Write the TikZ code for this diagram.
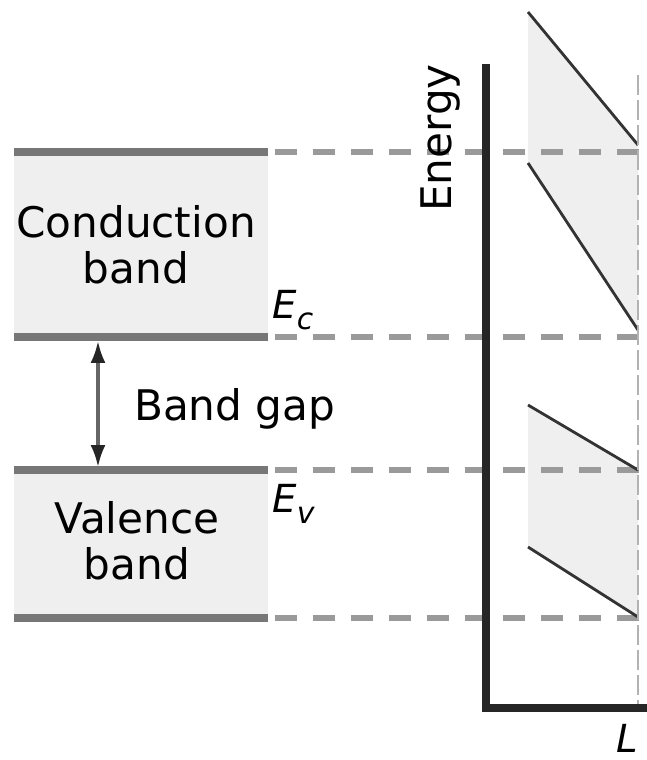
\documentclass[tikz,border=0pt]{standalone}
\usepackage{fontspec}
\setmainfont{DejaVu Sans}
\usetikzlibrary{arrows.meta}
\definecolor{bandgray}{HTML}{777777}
\definecolor{dashgray}{HTML}{9A9A9A}
\definecolor{fillgray}{HTML}{EFEFEF}
\tikzset{
  bandline/.style={
    draw = bandgray,
    line width = 4pt
  },
  dashline/.style={
    draw = dashgray,
    line width = 3.6pt,
    dash pattern = on 0.44cm off 0.32cm
  },
  bandfill/.style={
    fill = fillgray
  },
  slope/.style={
    draw = black!80,
    line width = 1.6pt
  },
  axisline/.style={
    draw = black!85,
    line width = 5pt
  },
  gaptip/.style={
    {Latex[length=0.44cm,width=0.3cm,color=black!85]}-{Latex[length=0.44cm,width=0.3cm,color=black!85]}
  },
  every picture/.style = {
    x = 0.02cm,
    y = -0.02cm,
    font = \fontsize{24}{26}\selectfont
  }
}
\begin{document}
\begin{tikzpicture}
            \useasboundingbox (0,0) rectangle (646,760);
            % fills
            \fill[bandfill] (14,152) rectangle (268,337);
            \fill[bandfill] (14,470) rectangle (268,618);
            \fill[bandfill] (528,12)--(638,145)--(638,330)--(528,163)--cycle;
            \fill[bandfill] (528,405)--(638,470)--(638,617)--(528,547)--cycle;
            % left: band edges
            \foreach \y in {152,337,470,618} {
              \draw[bandline] (14,\y)--(268,\y);
              \draw[dashline] (275,\y)--(640,\y);
            }
            \node (cond) [align=center] at (136,245) {Conduction\\band};
            \node (val) [align=center] at (137,541) {Valence\\band};
            \coordinate (ctop) at (98,341);
            \coordinate (vbot) at (98,467);
            \draw[gaptip, line width=1.8pt, black!60] (ctop)--(vbot);
            \node (gap) [anchor=base west] at (128,420) {Band gap};
            \node (ec) [anchor=base west, font=\fontsize{22}{26}\selectfont, inner sep=0pt] at (272,318)
                  {\itshape E\raisebox{-0.3em}{\fontsize{17}{20}\selectfont c}};
            \node (ev) [anchor=base west, font=\fontsize{22}{26}\selectfont, inner sep=0pt] at (272,512)
                  {\itshape E\raisebox{-0.3em}{\fontsize{17}{20}\selectfont v}};
            % right: bent bands
            \draw[slope] (528,12)--(638,145);
            \draw[slope] (528,163)--(638,330);
            \draw[slope] (528,405)--(638,470);
            \draw[slope] (528,547)--(638,617);
            \draw[draw=black!30, line width=0.6pt, dash pattern=on 0.4cm off 0.1cm] (638,75)--(638,704);
            % axes
            \coordinate (orig) at (486,708);
            \coordinate (ytop) at (486,64);
            \coordinate (xend) at (648,708);
            \draw[axisline] (ytop)--(orig)--(xend);
            \node (en) [rotate=90] at (441,138) {Energy};
            \node (xl) [anchor=north west, inner sep=0pt, font=\fontsize{22}{26}\selectfont] at (616,724) {\itshape L};
        \end{tikzpicture}
\end{document}
